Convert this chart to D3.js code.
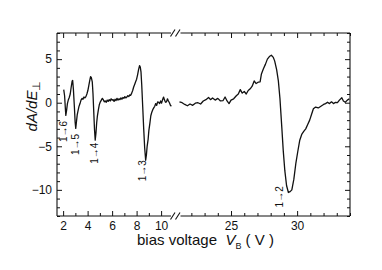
<!DOCTYPE html>
<html>
<head>
<meta charset="utf-8">
<script src="https://cdn.jsdelivr.net/npm/d3@7"></script>
<style>
  body { margin: 0; background: #fff; }
  text { font-family: 'Liberation Sans', Arial, sans-serif; fill: #111; }
</style>
</head>
<body>
<div id="chart"></div>
<script>
// low-bias segment (V) and signal
const biasLeft = [2.05, 2.12, 2.18, 2.22, 2.28, 2.35, 2.42, 2.5, 2.58, 2.66, 2.74, 2.78, 2.84, 2.92, 2.98, 3.03, 3.08, 3.15, 3.22, 3.3, 3.38, 3.46, 3.55, 3.62, 3.7, 3.78, 3.86, 3.94, 4.02, 4.1, 4.18, 4.24, 4.3, 4.38, 4.44, 4.5, 4.56, 4.62, 4.68, 4.74, 4.8, 4.88, 4.96, 5.04, 5.12, 5.2, 5.28, 5.36, 5.44, 5.52, 5.6, 5.68, 5.76, 5.84, 5.92, 6.0, 6.08, 6.16, 6.24, 6.32, 6.4, 6.48, 6.56, 6.64, 6.72, 6.8, 6.88, 6.96, 7.04, 7.12, 7.2, 7.28, 7.36, 7.44, 7.52, 7.6, 7.68, 7.76, 7.84, 7.92, 8.0, 8.08, 8.16, 8.24, 8.3, 8.36, 8.42, 8.5, 8.58, 8.66, 8.74, 8.8, 8.86, 8.94, 9.0, 9.08, 9.16, 9.24, 9.32, 9.4, 9.48, 9.56, 9.64, 9.72, 9.8, 9.88, 9.96, 10.04, 10.12, 10.2, 10.28, 10.36, 10.44, 10.52, 10.6, 10.68, 10.76, 10.84]
const signalLeft = [1.5, 0.8, -0.6, -1.45, -0.9, -0.1, 0.3, 0.6, 1.0, 1.8, 2.5, 2.55, 1.5, -0.5, -2.2, -2.95, -2.3, -1.4, -0.9, -0.4, -0.1, 0.3, 0.5, 0.4, 0.65, 0.55, 0.7, 1.0, 1.4, 2.0, 2.6, 3.0, 2.9, 2.4, 1.0, -1.0, -3.0, -4.3, -3.5, -2.3, -1.5, -0.8, -0.2, 0.1, 0.3, 0.5, 0.35, 0.1, 0.2, 0.05, 0.3, 0.15, 0.35, 0.2, 0.45, 0.3, 0.35, 0.15, 0.4, 0.25, 0.5, 0.3, 0.45, 0.35, 0.55, 0.4, 0.6, 0.5, 0.7, 0.55, 0.65, 0.8, 0.7, 0.9, 0.85, 1.1, 1.4, 1.8, 2.1, 2.4, 2.7, 3.2, 3.8, 4.25, 4.1, 3.5, 2.0, -0.5, -3.0, -5.2, -6.6, -6.0, -5.0, -4.2, -3.2, -2.4, -1.5, -1.1, -0.8, -0.6, -0.4, -0.1, -0.3, 0.1, 0.05, -0.1, 0.2, -0.05, 0.35, 0.65, 0.3, 0.05, 0.1, 0.45, 0.2, 0.0, -0.3, -0.4]

// high-bias segment
const biasRight = [21.1, 21.3, 21.5, 21.7, 21.9, 22.1, 22.3, 22.5, 22.7, 22.9, 23.1, 23.3, 23.45, 23.6, 23.8, 24.0, 24.2, 24.4, 24.55, 24.7, 24.85, 25.0, 25.2, 25.4, 25.55, 25.7, 25.85, 26.0, 26.15, 26.3, 26.45, 26.6, 26.75, 26.9, 27.05, 27.2, 27.3, 27.45, 27.6, 27.75, 27.9, 28.05, 28.2, 28.3, 28.45, 28.58, 28.7, 28.84, 28.95, 29.07, 29.2, 29.34, 29.47, 29.6, 29.75, 29.9, 30.05, 30.2, 30.36, 30.5, 30.65, 30.8, 30.95, 31.1, 31.23, 31.4, 31.6, 31.8, 32.0, 32.15, 32.3, 32.45, 32.6, 32.75, 32.9, 33.05, 33.2, 33.38, 33.5, 33.64, 33.8, 33.95]
const signalRight = [0.1, 0.0, -0.2, -0.35, -0.15, -0.3, -0.05, 0.0, -0.15, 0.2, 0.35, 0.6, 0.35, 0.55, 0.3, 0.5, 0.2, 0.25, 0.65, 0.2, -0.1, 0.3, 0.45, 0.8, 1.0, 1.5, 1.1, 1.3, 1.0, 1.4, 1.6, 1.9, 2.5, 2.2, 2.35, 2.4, 3.3, 3.9, 4.4, 5.0, 5.3, 5.45, 5.2, 4.8, 3.8, 2.5, 0.5, -2.8, -5.5, -7.8, -9.5, -10.3, -10.2, -10.0, -8.8, -7.0, -5.6, -4.3, -3.6, -3.3, -3.0, -2.5, -2.0, -1.3, -0.7, -0.5, -0.6, -0.4, -0.2, -0.1, 0.05, -0.1, 0.1, -0.1, 0.05, 0.0, 0.3, 0.57, 0.2, 0.05, 0.3, 0.45]

const xTicksLeft = [2, 4, 6, 8, 10]
const xTicksRight = [25, 30]
const yTicks = [-10, -5, 0, 5]

// transition labels: text, bias, signal position
const transLabels = ['1→6', '1→5', '1→4', '1→3', '1→2']
const transBias = [2.05, 3.05, 4.6, 8.45, 28.7]
const transSignal = [-3.3, -4.8, -5.8, -7.8, -10.8]

const width = 382
const height = 270
const margin = { top: 33, right: 32, bottom: 54, left: 57 }

const svg = d3.select('#chart')
  .append('svg')
  .attr('width', width)
  .attr('height', height)

const plotBottom = height - margin.bottom
const plotRight = width - margin.right

const xLeft = d3.scaleLinear().domain([1.5, 10.89]).range([margin.left, 172])
const xRight = d3.scaleLinear().domain([21.14, 34.0]).range([180, plotRight])
const y = d3.scaleLinear().domain([-13, 8]).range([plotBottom, margin.top])

function xOf(v) {
  return v < 15 ? xLeft(v) : xRight(v)
}

// frame pieces (broken on top and bottom)
const frame = svg.append('g').attr('stroke', '#111').attr('stroke-width', 1.1).attr('fill', 'none')
frame.append('line').attr('x1', margin.left).attr('x2', margin.left).attr('y1', margin.top).attr('y2', plotBottom)
frame.append('line').attr('x1', plotRight).attr('x2', plotRight).attr('y1', margin.top).attr('y2', plotBottom)
;[margin.top, plotBottom].forEach(yy => {
  frame.append('line').attr('x1', margin.left).attr('x2', 171).attr('y1', yy).attr('y2', yy)
  frame.append('line').attr('x1', 180.5).attr('x2', plotRight).attr('y1', yy).attr('y2', yy)
  frame.append('line').attr('x1', 170.5).attr('x2', 175).attr('y1', yy + 3.5).attr('y2', yy - 3.5)
  frame.append('line').attr('x1', 175.5).attr('x2', 180).attr('y1', yy + 3.5).attr('y2', yy - 3.5)
})

// x ticks drawn with d3 axes, pointing inward
function addX(scale, majors, minors) {
  const bottomMaj = d3.axisBottom(scale).tickValues(majors).tickSize(-5).tickPadding(5).tickFormat(d3.format('d'))
  const bottomMin = d3.axisBottom(scale).tickValues(minors).tickSize(-3).tickFormat('')
  const topMaj = d3.axisTop(scale).tickValues(majors).tickSize(-5).tickFormat('')
  const topMin = d3.axisTop(scale).tickValues(minors).tickSize(-3).tickFormat('')
  ;[[bottomMaj, plotBottom], [bottomMin, plotBottom], [topMaj, margin.top], [topMin, margin.top]].forEach(([ax, yy]) => {
    const g = svg.append('g').attr('transform', 'translate(0,' + yy + ')').call(ax)
    g.select('.domain').remove()
    g.selectAll('line').attr('stroke', '#111')
    g.selectAll('text').attr('font-size', 12).style('fill', '#111')
  })
}
addX(xLeft, xTicksLeft, d3.range(2, 11).filter(d => d % 2 !== 0))
addX(xRight, xTicksRight, d3.range(22, 35).filter(d => d % 5 !== 0))

// y ticks on both sides
const yMinor = d3.range(-13, 9).filter(d => d % 5 !== 0)
;[
  [d3.axisLeft(y).tickValues(yTicks).tickSize(-5).tickPadding(5), margin.left],
  [d3.axisLeft(y).tickValues(yMinor).tickSize(-3).tickFormat(''), margin.left],
  [d3.axisRight(y).tickValues(yTicks).tickSize(-5).tickFormat(''), plotRight],
  [d3.axisRight(y).tickValues(yMinor).tickSize(-3).tickFormat(''), plotRight]
].forEach(([ax, xx]) => {
  const g = svg.append('g').attr('transform', 'translate(' + xx + ',0)').call(ax)
  g.select('.domain').remove()
  g.selectAll('line').attr('stroke', '#111')
  g.selectAll('text').attr('font-size', 12).style('fill', '#111')
})

// the two curves
const line = d3.line().x(d => xOf(d[0])).y(d => y(d[1]))
const leftPts = biasLeft.map((v, i) => [v, signalLeft[i]])
const rightPts = biasRight.map((v, i) => [v, signalRight[i]])
;[leftPts, rightPts].forEach(pts => {
  svg.append('path')
    .datum(pts)
    .attr('d', line)
    .attr('fill', 'none')
    .attr('stroke', '#111')
    .attr('stroke-width', 1.3)
    .attr('stroke-linejoin', 'round')
})

// transition labels, rotated
transLabels.forEach((t, i) => {
  const cx = xOf(transBias[i])
  const cy = y(transSignal[i])
  svg.append('text')
    .attr('transform', 'translate(' + (cx + 3.5) + ',' + cy + ') rotate(-90)')
    .attr('text-anchor', 'middle')
    .attr('font-size', 10)
    .text(t)
})

// axis titles
svg.append('text')
  .attr('transform', 'translate(37,106) rotate(-90)')
  .attr('text-anchor', 'middle')
  .attr('font-size', 15)
  .call(t => {
    t.append('tspan').attr('font-style', 'italic').text('dA/dE')
    t.append('tspan').attr('font-size', 11).attr('dy', 3).text('⊥')
  })

svg.append('text')
  .attr('x', 137)
  .attr('y', 245)
  .attr('font-size', 15)
  .call(t => {
    t.append('tspan').text('bias voltage\u00a0\u00a0')
    t.append('tspan').attr('font-style', 'italic').text('V')
    t.append('tspan').attr('font-size', 9).attr('dy', 4).text('B')
    t.append('tspan').attr('dy', -4).text(' ( V )')
  })
</script>
</body>
</html>
